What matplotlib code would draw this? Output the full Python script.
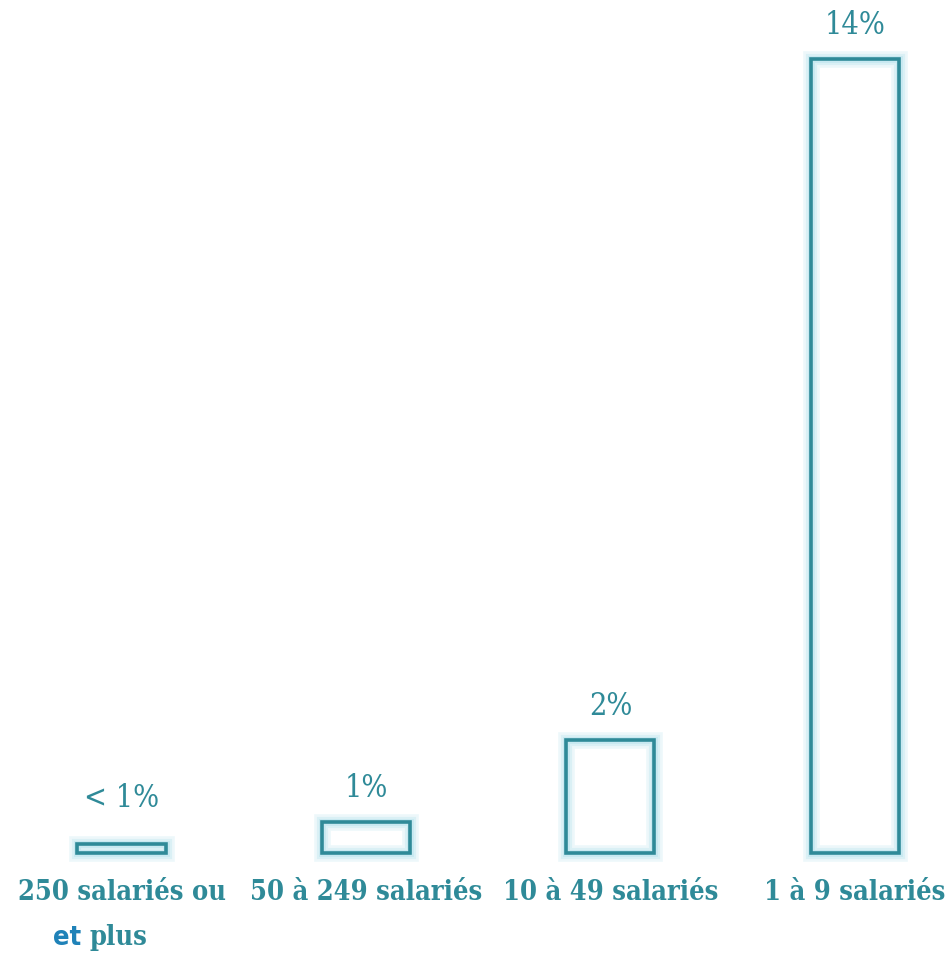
import matplotlib.pyplot as plt

# data (bar heights in %, as drawn)
categories = ['250 salariés ou', '50 à 249 salariés', '10 à 49 salariés', '1 à 9 salariés']
heights = [0.15, 0.55, 2.0, 14.0]
value_labels = ['< 1%', '1%', '2%', '14%']

TEAL = '#2f8a98'
GLOW = '#b8e3ee'
BLUE = '#1f82b8'

fig = plt.figure(figsize=(9.5, 9.57), dpi=100)
ax = fig.add_axes([0, 0, 1, 1])

x = list(range(len(categories)))
# soft glow under the outline
for lw, a in [(12, 0.25), (8, 0.35), (5, 0.5)]:
    ax.bar(x, heights, width=0.36, facecolor='none', edgecolor=GLOW, linewidth=lw, alpha=a)
ax.bar(x, heights, width=0.36, facecolor='none', edgecolor=TEAL, linewidth=2.6)

# px per unit: 244.5 horizontally, 56.7 vertically
ax.set_xlim(-0.497, 3.389)
ax.set_ylim(-1.834, 15.04)
ax.axis('off')

val_font = dict(family='DejaVu Serif', stretch='condensed', size=22, color=TEAL)
cat_font = dict(family='DejaVu Serif', stretch='condensed', weight='bold', size=19.5, color=TEAL)

for i, h in enumerate(heights):
    off = 30 if i == 0 else 18
    ax.annotate(value_labels[i], (i, h), xytext=(0, off), textcoords='offset pixels',
                ha='center', va='bottom', **val_font)
    ax.annotate(categories[i], (i, 0), xytext=(0, -40), textcoords='offset pixels',
                ha='center', va='center', **cat_font)

# second line of the first label, "et" in another blue
ax.annotate('et', (0, 0), xytext=(-40, -85), textcoords='offset pixels',
            ha='right', va='center', family='DejaVu Sans', stretch='condensed',
            weight='bold', size=19.5, color=BLUE)
ax.annotate('plus', (0, 0), xytext=(-32, -85), textcoords='offset pixels',
            ha='left', va='center', **cat_font)

fig.savefig('out.png', dpi=100, facecolor='white')
